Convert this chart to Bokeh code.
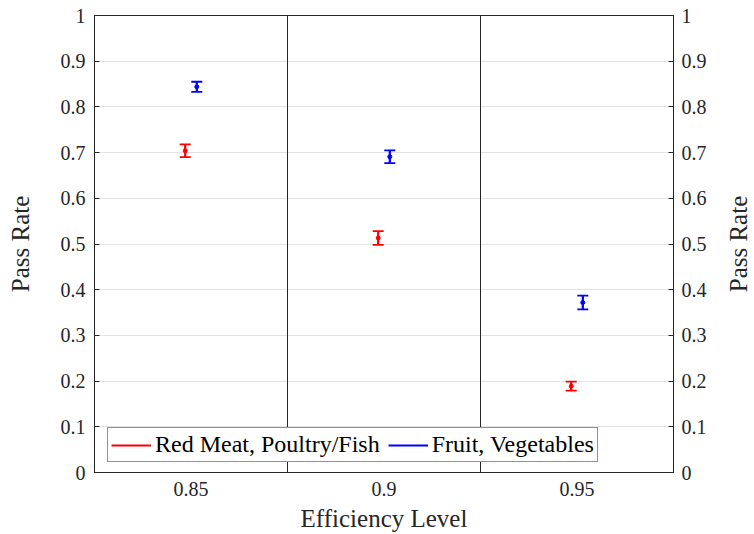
import math
from bokeh.plotting import figure
from bokeh.models import (ColumnDataSource, FactorRange, Range1d, LinearAxis, Span, Label,
                          Whisker, TeeHead, SingleIntervalTicker, Legend, LegendItem)
from bokeh.transform import dodge
from bokeh.embed import file_html
from bokeh.resources import INLINE

# ---- data ----
levels = ["0.85", "0.9", "0.95"]
meat_rate = [0.704, 0.513, 0.189]
meat_err = [0.014, 0.015, 0.010]
veg_rate = [0.844, 0.691, 0.372]
veg_err = [0.011, 0.014, 0.015]
y_label = "Pass Rate"
x_label = "Efficiency Level"
meat_name = "Red Meat, Poultry/Fish"
veg_name = "Fruit, Vegetables"

FONT = "'Liberation Serif', 'DejaVu Serif', serif"
DARK = "#262626"

meat = ColumnDataSource(dict(x=levels, y=meat_rate,
                             lo=[v - e for v, e in zip(meat_rate, meat_err)],
                             hi=[v + e for v, e in zip(meat_rate, meat_err)]))
veg = ColumnDataSource(dict(x=levels, y=veg_rate,
                            lo=[v - e for v, e in zip(veg_rate, veg_err)],
                            hi=[v + e for v, e in zip(veg_rate, veg_err)]))

p = figure(x_range=FactorRange(*levels, range_padding=0), y_range=Range1d(0, 1),
           frame_width=579, frame_height=457,
           min_border_left=94, min_border_right=80, min_border_top=15, min_border_bottom=60,
           output_backend="svg", toolbar_location=None)
p.background_fill_color = "white"
p.border_fill_color = "white"
p.outline_line_color = DARK
p.outline_line_width = 1

p.xgrid.visible = False
p.ygrid.grid_line_color = "#e3e3e3"
p.ygrid.grid_line_width = 1
p.ygrid.ticker = SingleIntervalTicker(interval=0.1)

# separators between categories
for i in range(1, len(levels)):
    p.add_layout(Span(location=i, dimension="height", line_color=DARK, line_width=1))

off = 0.03
series = [(meat, -off, "red", meat_name), (veg, off, "blue", veg_name)]
items = []
for src, d, col, name in series:
    xs = dodge("x", d, range=p.x_range)
    seg = p.segment(x0=xs, y0="lo", x1=xs, y1="hi", source=src, line_color=col, line_width=2)
    w = Whisker(base=xs, upper="hi", lower="lo", source=src, line_color=col, line_width=1.8,
                upper_head=TeeHead(size=11, line_color=col, line_width=1.8),
                lower_head=TeeHead(size=11, line_color=col, line_width=1.8))
    p.add_layout(w)
    p.scatter(x=xs, y="y", source=src, size=4, color=col)
    items.append(LegendItem(label=name, renderers=[seg]))

legend = Legend(items=items, orientation="horizontal", location=(13, 10), margin=0,
                background_fill_color="white", background_fill_alpha=1,
                border_line_color=DARK, border_line_width=1,
                label_text_font=FONT, label_text_font_size="24px", label_text_color="black",
                glyph_width=40, glyph_height=16, label_standoff=4, spacing=8,
                padding=3, label_height=16)
p.add_layout(legend, "center")

def style_axis(ax):
    ax.axis_line_color = DARK
    ax.major_tick_line_color = DARK
    ax.minor_tick_line_color = None
    ax.major_tick_in = 5
    ax.major_tick_out = 0
    ax.major_label_text_font = FONT
    ax.major_label_text_font_size = "20px"
    ax.major_label_text_color = DARK
    ax.axis_label_text_font = FONT
    ax.axis_label_text_font_size = "25px"
    ax.axis_label_text_font_style = "normal"
    ax.axis_label_text_color = DARK

p.yaxis.ticker = SingleIntervalTicker(interval=0.1)
p.yaxis.axis_label = y_label
p.yaxis.major_label_overrides = {0: "0", 1: "1"}
style_axis(p.yaxis[0])
p.yaxis.major_label_standoff = 5
p.yaxis.axis_label_standoff = 24

right = LinearAxis(ticker=SingleIntervalTicker(interval=0.1))
right.major_label_overrides = {0: "0", 1: "1"}
style_axis(right)
right.major_label_standoff = 4
p.add_layout(right, "right")

# right-hand y label, reading bottom-to-top like the left one
p.add_layout(Label(x=len(levels), y=0.5, x_offset=65, angle=math.pi / 2, text=y_label,
                   text_align="center", text_baseline="middle", text_font=FONT,
                   text_font_size="25px", text_color=DARK), "right")

p.xaxis.axis_label = x_label
style_axis(p.xaxis[0])
p.xaxis.major_tick_in = 0
p.xaxis.major_label_standoff = 9
p.xaxis.axis_label_standoff = 6

open("out.html", "w").write(file_html(p, INLINE))
